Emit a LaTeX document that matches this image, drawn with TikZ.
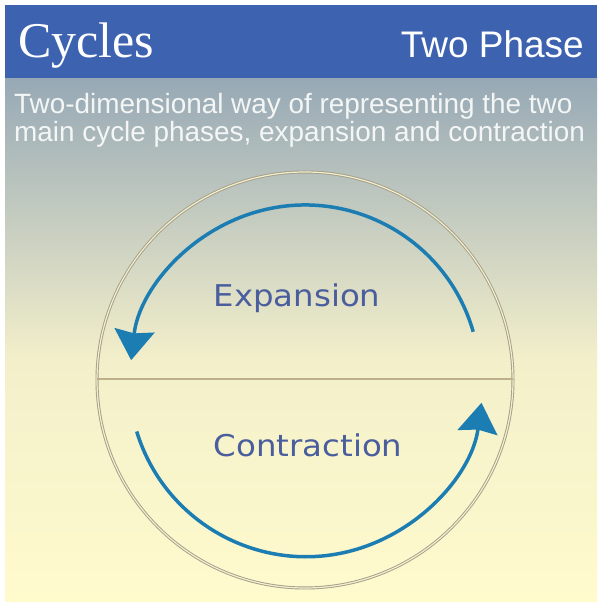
\documentclass[tikz,border=0pt]{standalone}
\usepackage{fontspec}
\setmainfont{Liberation Sans}
\newfontfamily\cycfont{Liberation Serif}
\newfontfamily\lblfont[FakeStretch=1.08]{DejaVu Sans}
\usetikzlibrary{arrows.meta}
\definecolor{hdrblue}{HTML}{3D63B0}
\definecolor{gtop}{HTML}{97A9B6}
\definecolor{gmid}{HTML}{F3EFCA}
\definecolor{gbot}{HTML}{FFFBCD}
\definecolor{ringcol}{HTML}{A39D8A}
\definecolor{divcol}{HTML}{BDB088}
\definecolor{arrcol}{HTML}{1C7DB3}
\definecolor{lblcol}{HTML}{4A5E9E}
\definecolor{subcol}{HTML}{F4F6F6}
\tikzset{
  phasearrow/.style={draw=arrcol, line width=3.5pt,
    -{Stealth[length=30pt, width=40pt, inset=3pt]}},
  phaselabel/.style={text=lblcol, font=\lblfont\fontsize{30}{30}\selectfont, inner sep=0pt},
  hdrtext/.style={text=white, inner sep=0pt},
  subtext/.style={text=subcol, font=\fontsize{27.9}{28}\selectfont, inner sep=0pt}
}
\begin{document}
\begin{tikzpicture}[x=1pt,y=1pt]
\useasboundingbox (0,0) rectangle (599,605);
\fill[white] (0,0) rectangle (599,605);
% background gradient
\shade[top color=gtop, bottom color=gmid] (5,245) rectangle (597,527);
\shade[top color=gmid, bottom color=gbot] (5,3) rectangle (597,245.5);
% header
\fill[hdrblue] (5,527) rectangle (597,600);
\node[hdrtext, anchor=base west, font=\cycfont\fontsize{50}{50}\selectfont] (title) at (18,547) {Cycles};
\node[hdrtext, anchor=base east, font=\fontsize{37}{37}\selectfont] (phase) at (584,547) {Two Phase};
\node[subtext, anchor=base west] (sub1) at (14,491) {Two-dimensional way of representing the two};
\node[subtext, anchor=base west] (sub2) at (14,463) {main cycle phases, expansion and contraction};
% circle
\coordinate (c) at (305,225);
\draw[ringcol, double=gmid, double distance=1.2pt, line width=0.9pt] (c) circle[radius=208];
\coordinate (dl) at (97,226);
\coordinate (dr) at (513,226);
\draw[divcol, line width=1.3pt] (dl) -- (dr);
% arrows
\draw[phasearrow] (c) ++(16:175) arc[start angle=16, end angle=173.5, radius=175];
\draw[phasearrow] (c) ++(197:176) arc[start angle=197, end angle=352.5, radius=177];
% labels
\node[phaselabel] (exp) at (297,307) {Expansion};
\node[phaselabel] (con) at (308,160) {Contraction};
\end{tikzpicture}
\end{document}
